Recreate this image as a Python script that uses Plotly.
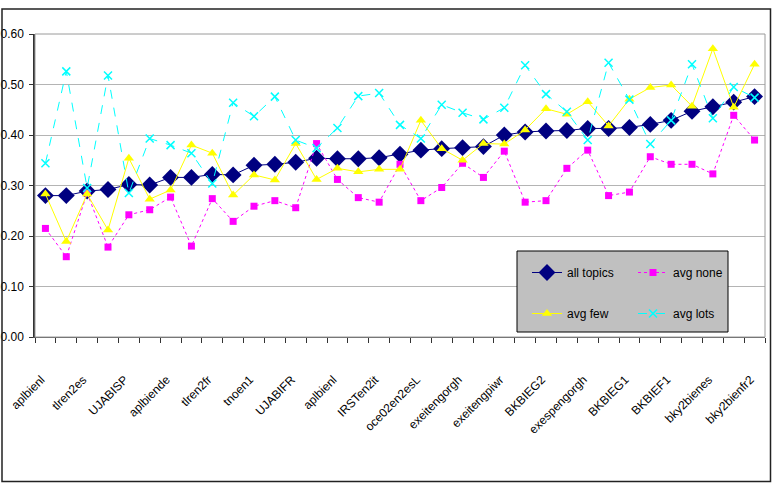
import plotly.graph_objects as go

tick_labels = ["aplbienl", "tlren2es", "UJABISP", "aplbiende", "tlren2fr", "tnoen1",
               "UJABIFR", "aplbienl", "IRSTen2it", "oce02en2esL", "exeitengorgh",
               "exeitengpiwr", "BKBIEG2", "exespengorgh", "BKBIEG1", "BKBIEF1",
               "bky2bienes", "bky2bienfr2"]

all_topics = [0.280, 0.280, 0.289, 0.292, 0.302, 0.301, 0.316, 0.316, 0.322, 0.321,
              0.340, 0.342, 0.346, 0.354, 0.353, 0.353, 0.355, 0.362, 0.370, 0.373,
              0.375, 0.377, 0.400, 0.406, 0.408, 0.409, 0.413, 0.413, 0.415, 0.421,
              0.429, 0.447, 0.456, 0.465, 0.476]
avg_none = [0.215, 0.159, 0.285, 0.178, 0.242, 0.252, 0.277, 0.180, 0.274, 0.229,
            0.259, 0.270, 0.256, 0.383, 0.312, 0.276, 0.267, 0.342, 0.270, 0.296,
            0.344, 0.316, 0.368, 0.267, 0.270, 0.334, 0.370, 0.280, 0.287, 0.357,
            0.342, 0.342, 0.323, 0.439, 0.390]
avg_few = [0.283, 0.189, 0.283, 0.212, 0.354, 0.273, 0.291, 0.380, 0.364, 0.281,
           0.321, 0.311, 0.383, 0.312, 0.334, 0.327, 0.332, 0.332, 0.429, 0.373,
           0.350, 0.383, 0.382, 0.410, 0.452, 0.441, 0.466, 0.418, 0.471, 0.494,
           0.499, 0.457, 0.571, 0.455, 0.540]
avg_lots = [0.344, 0.526, 0.295, 0.518, 0.285, 0.393, 0.380, 0.364, 0.304, 0.464,
            0.437, 0.476, 0.390, 0.374, 0.414, 0.477, 0.483, 0.420, 0.393, 0.460,
            0.444, 0.431, 0.454, 0.538, 0.481, 0.446, 0.390, 0.543, 0.470, 0.382,
            0.429, 0.540, 0.433, 0.495, 0.474]

n = len(all_topics)
xs = list(range(n))
FONT = "Liberation Sans, Arial, sans-serif"

fig = go.Figure()
fig.add_trace(go.Scatter(x=xs, y=all_topics, name="all topics", mode="lines+markers",
                         line=dict(color="#000080", width=1),
                         marker=dict(symbol="diamond", size=13, color="#000080"),
                         legend="legend", legendgroup="a"))
fig.add_trace(go.Scatter(x=xs, y=avg_none, name="avg none", mode="lines+markers",
                         line=dict(color="#ff00ff", width=1, dash="dot"),
                         marker=dict(symbol="square", size=7, color="#ff00ff"),
                         legend="legend2", legendgroup="b"))
fig.add_trace(go.Scatter(x=xs, y=avg_few, name="avg few", mode="lines+markers",
                         line=dict(color="#ffff00", width=1),
                         marker=dict(symbol="triangle-up", size=9, color="#ffff00"),
                         legend="legend", legendgroup="c"))
fig.add_trace(go.Scatter(x=xs, y=avg_lots, name="avg lots", mode="lines+markers",
                         line=dict(color="#00ffff", width=1, dash="dash"),
                         marker=dict(symbol="x-thin", size=8, color="#00ffff",
                                     line=dict(color="#00ffff", width=1.5)),
                         legend="legend2", legendgroup="d"))

L, R, T, B = 35, 765, 34, 337
W, H = 776, 490
def px(x):
    return (x - L) / (R - L)
def py(y):
    return (B - y) / (B - T)

shapes = [
    dict(type="line", xref="paper", yref="y", x0=0, x1=1, y0=0.1, y1=0.1,
         line=dict(color="black", width=1), layer="between"),
    dict(type="rect", xref="paper", yref="paper", x0=0, x1=1, y0=0, y1=1,
         line=dict(color="#9a9a9a", width=1), layer="above"),
    dict(type="rect", xref="paper", yref="paper", x0=px(517), x1=px(728),
         y0=py(332), y1=py(251), fillcolor="#c0c0c0",
         line=dict(color="black", width=1), layer="above"),
    dict(type="rect", xref="paper", yref="paper", x0=px(2), x1=px(770.5),
         y0=py(481.5), y1=py(9), line=dict(color="#222222", width=1.5), layer="above"),
]

legend_common = dict(bgcolor="rgba(0,0,0,0)", borderwidth=0, orientation="v",
                     xanchor="left", yanchor="top", traceorder="grouped",
                     tracegroupgap=22, font=dict(family=FONT, size=12, color="black"))

fig.update_layout(
    width=W, height=H,
    margin=dict(l=L, r=W - R, t=T, b=H - B),
    paper_bgcolor="white", plot_bgcolor="white",
    font=dict(family=FONT, size=12, color="black"),
    showlegend=True,
    legend=dict(x=px(527), y=py(258), **legend_common),
    legend2=dict(x=px(633), y=py(258), **legend_common),
    shapes=shapes,
    xaxis=dict(range=[-0.5, n - 0.5], tickmode="array",
               tickvals=[x - 0.2 for x in xs[::2]], ticktext=tick_labels, tickangle=-45,
               ticks="", showgrid=False, zeroline=False, automargin=False,
               showline=True, linecolor="#555555", linewidth=1,
               ticklabelstandoff=30,
               tickfont=dict(family=FONT, size=12, color="black"),
               minor=dict(tickmode="array", tickvals=[i - 0.5 for i in range(n + 1)],
                          ticks="outside", ticklen=5, tickcolor="#333333", showgrid=False)),
    yaxis=dict(range=[0, 0.6], tickmode="linear", tick0=0, dtick=0.1, tickformat=".2f",
               showgrid=True, gridcolor="#b4b4b4", gridwidth=1, zeroline=False,
               automargin=False, ticklabelstandoff=3,
               showline=True, linecolor="#333333", linewidth=1.5,
               ticks="outside", ticklen=4, tickcolor="#333333",
               tickfont=dict(family=FONT, size=12, color="black")),
)

fig.write_html("out.html")
